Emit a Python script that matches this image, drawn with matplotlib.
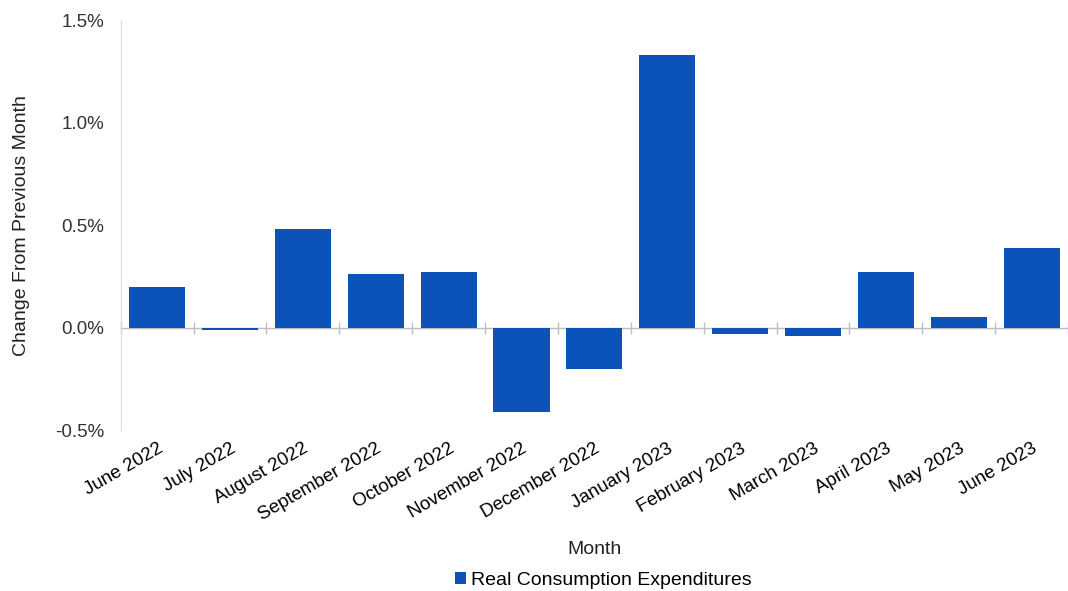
import numpy as np
import matplotlib.pyplot as plt
from matplotlib.ticker import FuncFormatter, MultipleLocator

plt.rcParams['font.family'] = ['Liberation Sans', 'DejaVu Sans']

months = ['June 2022', 'July 2022', 'August 2022', 'September 2022', 'October 2022',
          'November 2022', 'December 2022', 'January 2023', 'February 2023',
          'March 2023', 'April 2023', 'May 2023', 'June 2023']
change = [0.20, -0.01, 0.48, 0.26, 0.27, -0.41, -0.20, 1.33, -0.03, -0.04, 0.27, 0.05, 0.39]

bar_color = '#0B53B8'
axis_gray = '#bdbdbd'

fig = plt.figure(figsize=(10.68, 5.91), dpi=100)
ax = fig.add_axes([0.113, 0.272, 0.887, 0.694])

x = np.arange(len(months))
ax.bar(x, change, width=0.77, color=bar_color, label='Real Consumption Expenditures')

ymin, ymax = -0.5, 1.5
ax.set_ylim(ymin, ymax)
ax.set_xlim(-0.5, len(months) - 0.5)
ax.yaxis.set_major_locator(MultipleLocator(0.5))
ax.yaxis.set_major_formatter(FuncFormatter(lambda v, p: '%.1f%%' % v))
ax.tick_params(axis='y', length=0, labelsize=13.5, pad=12, colors='#333333')

# labels at the bottom, no tick marks
ax.set_xticks(x)
ax.set_xticklabels(months, rotation=30, ha='right', rotation_mode='anchor', fontsize=13.5)
ax.tick_params(axis='x', length=0, pad=7)

for s in ['top', 'right', 'bottom']:
    ax.spines[s].set_visible(False)
ax.spines['left'].set_color('#d9d9d9')

# zero line with category boundary ticks
zero_loc = (0 - ymin) / (ymax - ymin)
sec = ax.secondary_xaxis(zero_loc)
sec.set_xticks(np.arange(len(months) + 1) - 0.5)
sec.set_xticklabels([])
sec.tick_params(direction='inout', length=9, color=axis_gray, width=1)
sec.spines['bottom'].set_color(axis_gray)
sec.spines['bottom'].set_linewidth(1)

ax.set_ylabel('Change From Previous Month', fontsize=14, labelpad=18, color='#222222')
ax.set_xlabel('Month', fontsize=14, labelpad=12, color='#222222')

fig.legend(loc='lower center', bbox_to_anchor=(0.565, -0.026), frameon=False, fontsize=14,
           handlelength=0.55, handleheight=0.55, handletextpad=0.3)

fig.savefig('out.png', dpi=100)
